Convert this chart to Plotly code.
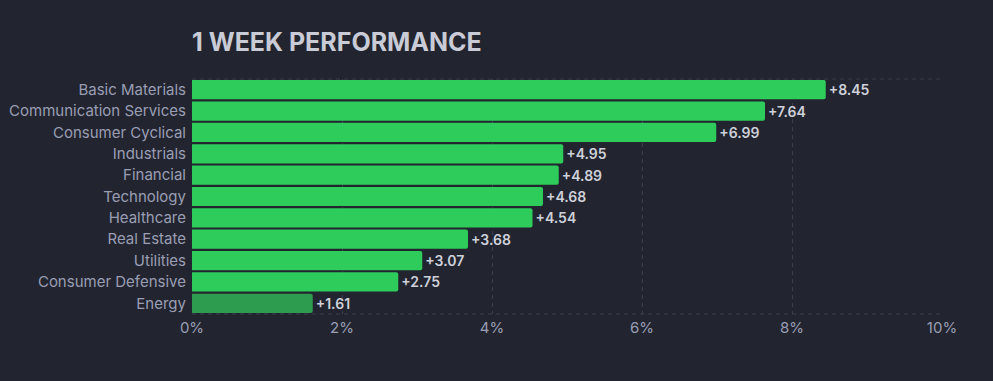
import plotly.graph_objects as go

sectors = ["Basic Materials", "Communication Services", "Consumer Cyclical", "Industrials",
           "Financial", "Technology", "Healthcare", "Real Estate", "Utilities",
           "Consumer Defensive", "Energy"]
values = [8.45, 7.64, 6.99, 4.95, 4.89, 4.68, 4.54, 3.68, 3.07, 2.75, 1.61]
bar_colors = ["#2ecc5b"] * 10 + ["#2e9c4e"]
tick_vals = [0, 2, 4, 6, 8, 10]
tick_text = ["0%", "2%", "4%", "6%", "8%", "10%"]

bg = "#22252f"
grid = "#3a3e4d"

fig = go.Figure(go.Bar(
    y=sectors, x=values, orientation="h",
    marker=dict(color=bar_colors, line=dict(width=0), cornerradius=2),
    text=[f"+{v:.2f}" for v in values], textposition="outside",
    textfont=dict(family="Inter", size=14, color="#cfd1da", weight=600),
    cliponaxis=False,
))

fig.update_layout(
    width=993, height=381,
    paper_bgcolor=bg, plot_bgcolor=bg,
    margin=dict(l=192, r=51, t=79, b=67),
    bargap=0.1,
    showlegend=False,
    title=dict(text="<b>1 WEEK PERFORMANCE</b>", x=192/993, xanchor="left",
               y=1-42/381, yanchor="middle",
               font=dict(family="Inter", size=25, color="#c9cbd6")),
    font=dict(family="Inter", size=15, color="#9a9eb4"),
    xaxis=dict(range=[0, 10], tickvals=tick_vals, ticktext=tick_text,
               showgrid=True, gridcolor=grid, griddash="4px,4px", gridwidth=1,
               zeroline=False, showline=False, ticks="", ticklabelstandoff=3,
               automargin=False,
               tickfont=dict(size=15, color="#9a9eb4")),
    yaxis=dict(categoryorder="array", categoryarray=sectors[::-1],
               showgrid=False, zeroline=False, ticks="", ticklabelstandoff=5,
               automargin=False,
               tickfont=dict(size=15, color="#9a9eb4")),
    shapes=[
        dict(type="line", xref="paper", yref="paper", x0=0, x1=1, y0=1, y1=1,
             line=dict(color=grid, width=1, dash="4px,4px"), layer="below"),
        dict(type="line", xref="paper", yref="paper", x0=0, x1=1, y0=0, y1=0,
             line=dict(color=grid, width=1, dash="4px,4px"), layer="below"),
    ],
)

fig.write_html(
    "out.html",
    config={"displayModeBar": False},
    post_script="document.body.style.margin='0';document.body.style.background='#22252f';",
)
